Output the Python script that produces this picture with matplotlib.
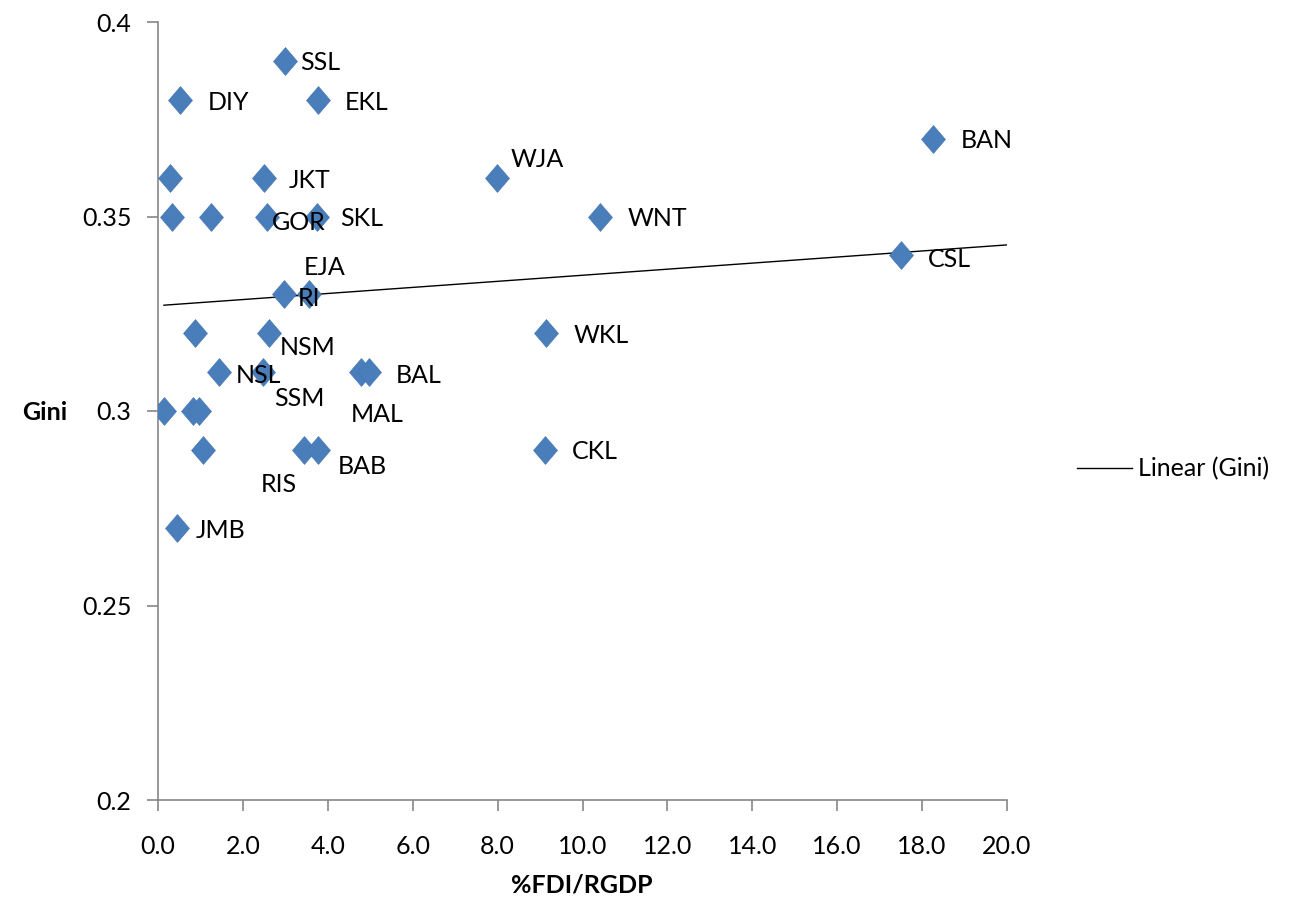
import numpy as np
import matplotlib
matplotlib.use("Agg")
import matplotlib.pyplot as plt
from matplotlib.lines import Line2D

plt.rcParams['font.family'] = ['Lato', 'DejaVu Sans']

# Data: %FDI/RGDP (x) and Gini (y) for provinces
fdi = [2.99, 0.52, 3.77, 18.26, 7.99, 0.28, 2.50,
       0.33, 1.25, 2.57, 3.75, 10.41, 17.50,
       2.97, 3.56, 0.87, 2.61, 9.14,
       1.44, 2.47, 4.78, 4.97,
       0.14, 0.82, 0.97,
       1.06, 3.44, 3.77, 9.12, 0.45]
gini = [0.39, 0.38, 0.38, 0.37, 0.36, 0.36, 0.36,
        0.35, 0.35, 0.35, 0.35, 0.35, 0.34,
        0.33, 0.33, 0.32, 0.32, 0.32,
        0.31, 0.31, 0.31, 0.31,
        0.30, 0.30, 0.30,
        0.29, 0.29, 0.29, 0.29, 0.27]
labels = ['SSL', 'DIY', 'EKL', 'BAN', 'WJA', '', 'JKT',
          '', '', 'GOR', 'SKL', 'WNT', 'CSL',
          'RI', 'EJA', '', 'NSM', 'WKL',
          'NSL', 'SSM', 'MAL', 'BAL',
          '', '', '',
          '', 'RIS', 'BAB', 'CKL', 'JMB']
# label offsets in pixels (dx, dy) from the point
label_offsets = [(15, -2), (28, -3), (27, -3), (28, -2), (13, 18), (0, 0), (25, -3),
                 (0, 0), (0, 0), (5, -6), (23, -2), (28, -2), (27, -4),
                 (14, -4), (-5, 27), (0, 0), (11, -14), (28, -2),
                 (17, -3), (11, -26), (-10, -42), (27, -3),
                 (0, 0), (0, 0), (0, 0),
                 (0, 0), (-43, -35), (20, -17), (27, -2), (19, -3)]

# Linear trendline (Gini): from min x to axis end
trend_x = [0.14, 20.0]
trend_y = [0.3272, 0.3427]

x_ticks = np.arange(0, 20.01, 2.0)
y_ticks = [0.2, 0.25, 0.3, 0.35, 0.4]
y_ticklabels = ['0.2', '0.25', '0.3', '0.35', '0.4']

fig = plt.figure(figsize=(12.96, 9.08), dpi=100)
ax = fig.add_axes([158/1296, 1-800/908, (1007-158)/1296, (800-22)/908])

blue = '#4a7ebb'
diamond = [(0, 1), (0.86, 0), (0, -1), (-0.86, 0), (0, 1)]
ax.plot(fdi, gini, linestyle='none', marker=diamond, markersize=20,
        color=blue, markeredgecolor='#4677b3', markeredgewidth=0.5, zorder=3)

fs = 18
for xv, yv, lab, (dx, dy) in zip(fdi, gini, labels, label_offsets):
    if lab:
        ax.annotate(lab, (xv, yv), xytext=(dx, dy), textcoords='offset pixels',
                    ha='left', va='center', fontsize=fs, color='black', zorder=4)

ax.plot(trend_x, trend_y, color='black', linewidth=1.0, zorder=2)

ax.set_xlim(0, 20)
ax.set_ylim(0.2, 0.4)
ax.set_xticks(x_ticks)
ax.set_xticklabels([f'{v:.1f}' for v in x_ticks])
ax.set_yticks(y_ticks)
ax.set_yticklabels(y_ticklabels)
for s in ['top', 'right']:
    ax.spines[s].set_visible(False)
for s in ['left', 'bottom']:
    ax.spines[s].set_color('#868686')
    ax.spines[s].set_linewidth(1.2)
ax.tick_params(axis='both', direction='out', length=8, width=1.2, color='#868686',
               labelsize=fs, labelcolor='black')
ax.tick_params(axis='x', pad=17)
ax.tick_params(axis='y', pad=11)

fig.text(45/1296, 1-413/908, 'Gini', fontsize=fs, fontweight='bold', ha='center', va='center')
fig.text(582/1296, 1-885/908, '%FDI/RGDP', fontsize=fs, fontweight='bold', ha='center', va='center')

# Legend
legend_handle = Line2D([0], [0], color='black', linewidth=1.0)
fig.legend([legend_handle], ['Linear (Gini)'], loc='center left',
           bbox_to_anchor=(1077/1296, 1-469/908), frameon=False, fontsize=fs,
           handlelength=2.2, handletextpad=0.25, borderpad=0, borderaxespad=0)

fig.savefig('out.png', dpi=100)
